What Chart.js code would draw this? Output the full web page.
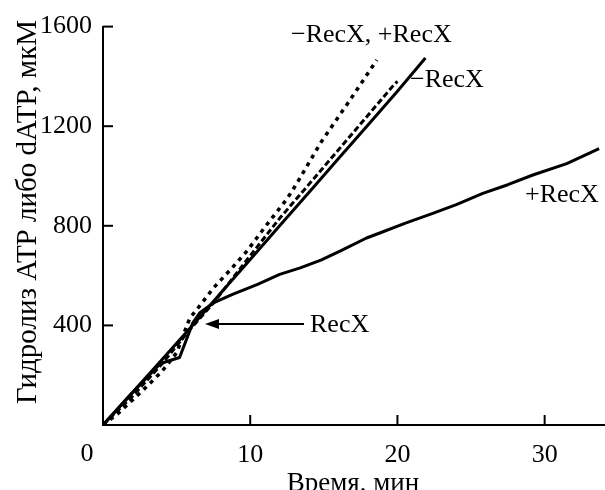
<!DOCTYPE html>
<html>
<head>
<meta charset="utf-8">
<script src="https://cdn.jsdelivr.net/npm/chart.js@4.4.1/dist/chart.umd.min.js"></script>
<style>
html,body{margin:0;padding:0;background:#fff;}
canvas{display:block;}
</style>
</head>
<body>
<canvas id="c" width="605" height="490" style="width:605px;height:490px"></canvas>
<script>
// ---- data (time, min ; hydrolysis, µM) ----
const timeMinusSolid = [0, 2, 4, 6, 8, 10, 12, 14, 16, 18, 20, 21.9];
const valMinusSolid  = [0, 130, 262, 395, 530, 665, 800, 935, 1070, 1205, 1340, 1474];

const timeMinusDashed = [0, 2, 4, 6, 7.5, 10, 12, 14.3, 16.6, 19.7, 20.0];
const valMinusDashed  = [0, 115, 245, 390, 490, 680, 830, 988, 1147, 1362, 1380];

const timeMinusPlusDotted = [0, 1, 2.7, 4, 5, 5.9, 6.3, 7.5, 8.6, 9.8, 11, 12.5, 13.1, 14.8, 16.8, 18.6];
const valMinusPlusDotted  = [0, 45, 139, 215, 290, 430, 458, 550, 620, 700, 795, 908, 964, 1135, 1307, 1466];

const timePlusSolid = [0, 2, 3.9, 5.2, 6.1, 6.6, 7.5, 8.8, 10.5, 12.0, 13.4, 14.8, 16.1, 17.9, 18.8, 20.5, 22.4, 24.0, 25.8, 27.5, 29.2, 31.5, 33.7];
const valPlusSolid  = [0, 130, 247, 271, 410, 452, 490, 525, 565, 605, 631, 662, 698, 751, 771, 810, 850, 885, 930, 965, 1004, 1050, 1110];

const xTicks = [0, 10, 20, 30];
const yTicks = [400, 800, 1200, 1600];

const xTitle = "Время, мин";
const yTitle = "Гидролиз ATP либо dATP, мкМ";
const labelBoth = "\u2212RecX, +RecX";
const labelMinus = "\u2212RecX";
const labelPlus = "+RecX";
const labelArrow = "RecX";

const pts = (xs, ys) => xs.map((x, i) => ({x: x, y: ys[i]}));
const FONT = "'Liberation Serif', 'DejaVu Serif', serif";

const annot = {
  id: 'annot',
  afterDraw(chart) {
    const ctx = chart.ctx, xs = chart.scales.x, ys = chart.scales.y;
    ctx.save();
    ctx.strokeStyle = '#000';
    ctx.fillStyle = '#000';
    ctx.lineWidth = 2;
    // inward tick marks
    yTicks.forEach(v => {
      const py = ys.getPixelForValue(v);
      ctx.beginPath(); ctx.moveTo(xs.left, py); ctx.lineTo(xs.left + 10, py); ctx.stroke();
    });
    xTicks.filter(v => v > 0).forEach(v => {
      const px = xs.getPixelForValue(v);
      ctx.beginPath(); ctx.moveTo(px, ys.bottom); ctx.lineTo(px, ys.bottom - 10); ctx.stroke();
    });
    ctx.font = "26px " + FONT;
    ctx.textBaseline = 'middle';
    // origin label
    ctx.textAlign = 'center';
    ctx.fillText("0", 87, 454);
    // series labels
    ctx.textAlign = 'left';
    ctx.fillText(labelBoth, 291, 35);
    ctx.fillText(labelMinus, 410, 80);
    ctx.fillText(labelPlus, 525, 195);
    ctx.fillText(labelArrow, 310, 325);
    // arrow
    ctx.lineWidth = 2;
    ctx.beginPath(); ctx.moveTo(304, 324); ctx.lineTo(214, 324); ctx.stroke();
    ctx.beginPath(); ctx.moveTo(205, 324); ctx.lineTo(219, 319); ctx.lineTo(219, 329); ctx.closePath(); ctx.fill();
    // axis titles
    ctx.textAlign = 'center';
    ctx.textBaseline = 'alphabetic';
    ctx.font = "27px " + FONT;
    ctx.fillText(xTitle, 353, 491);
    ctx.font = "29px " + FONT;
    ctx.translate(36, 212);
    ctx.rotate(-Math.PI / 2);
    ctx.fillText(yTitle, 0, 0);
    ctx.restore();
  }
};

const ds = (data, dash, width) => ({
  data: data, borderColor: '#000', backgroundColor: '#000', borderWidth: width,
  borderDash: dash, pointRadius: 0, fill: false, tension: 0,
  borderCapStyle: 'butt', borderJoinStyle: 'round'
});

new Chart(document.getElementById('c'), {
  type: 'line',
  data: {
    datasets: [
      ds(pts(timeMinusPlusDotted, valMinusPlusDotted), [4, 5], 3.5),
      ds(pts(timeMinusDashed, valMinusDashed), [6, 3], 3),
      ds(pts(timePlusSolid, valPlusSolid), [], 3),
      ds(pts(timeMinusSolid, valMinusSolid), [], 3)
    ]
  },
  options: {
    responsive: false,
    animation: false,
    devicePixelRatio: 1,
    layout: {padding: {top: 23, right: 0, left: 0, bottom: 0}},
    plugins: {legend: {display: false}, tooltip: {enabled: false}},
    scales: {
      x: {
        type: 'linear', min: 0, max: 34.1,
        afterBuildTicks: s => { s.ticks = xTicks.map(v => ({value: v})); },
        afterFit: s => { s.height = 65; },
        grid: {display: false, drawTicks: false},
        border: {display: true, color: '#000', width: 2},
        ticks: {color: '#000', font: {family: FONT, size: 26}, padding: 15, maxRotation: 0,
                callback: v => v === 0 ? '' : String(v)}
      },
      y: {
        type: 'linear', min: 0, max: 1600,
        afterBuildTicks: s => { s.ticks = yTicks.map(v => ({value: v})); },
        afterFit: s => { s.width = 103; },
        grid: {display: false, drawTicks: false},
        border: {display: true, color: '#000', width: 2},
        ticks: {color: '#000', font: {family: FONT, size: 26}, padding: 11,
                callback: v => String(v)}
      }
    }
  },
  plugins: [annot]
});
</script>
</body>
</html>
